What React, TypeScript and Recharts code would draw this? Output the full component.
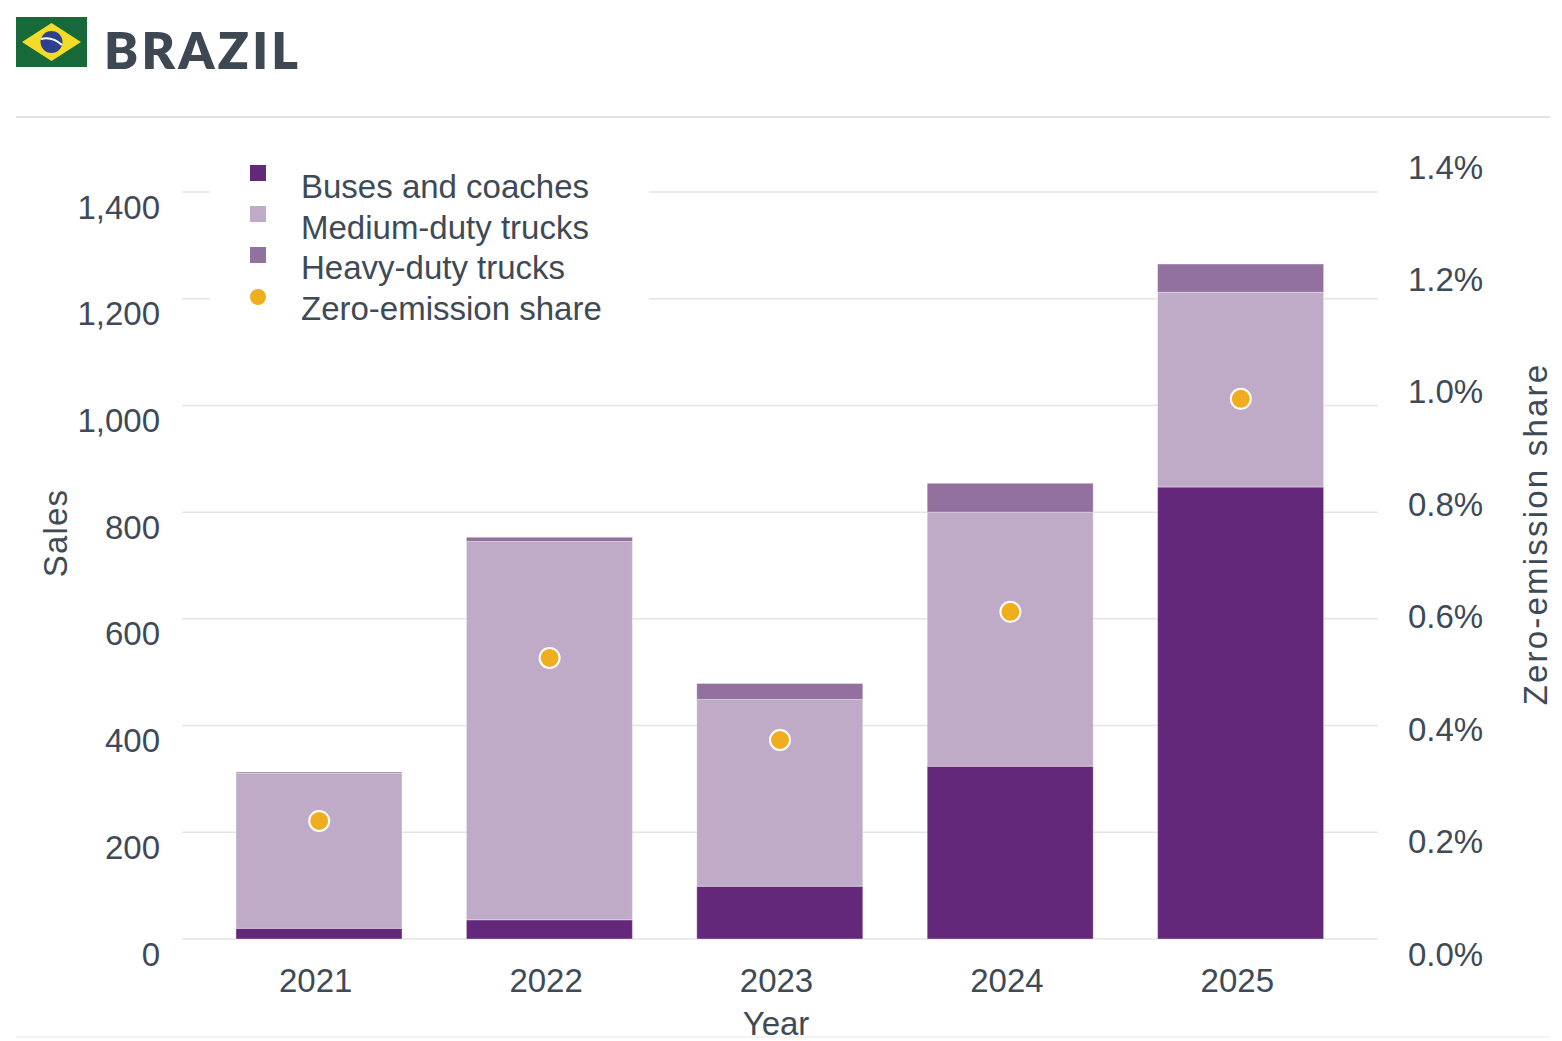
import React from 'react';
import { ComposedChart, Bar, Line, XAxis, YAxis, CartesianGrid, Legend } from 'recharts';

const YEARS = ['2021', '2022', '2023', '2024', '2025'];
const BUSES = [20, 36, 99, 324, 847];
const MEDIUM = [291, 709, 350, 476, 365];
const HEAVY = [2, 8, 30, 54, 53];
const ZE_SHARE = [0.21, 0.5, 0.354, 0.582, 0.961];
const LEFT_TICKS = [0, 200, 400, 600, 800, 1000, 1200, 1400];
const RIGHT_TICKS = [0, 0.2, 0.4, 0.6, 0.8, 1.0, 1.2, 1.4];

const SERIES = [
  { key: 'buses', name: 'Buses and coaches', color: '#63287a', shape: 'square' },
  { key: 'medium', name: 'Medium-duty trucks', color: '#bfabc8', shape: 'square' },
  { key: 'heavy', name: 'Heavy-duty trucks', color: '#93719e', shape: 'square' },
  { key: 'share', name: 'Zero-emission share', color: '#f0ad1e', shape: 'circle' },
];

const data = YEARS.map((year, i) => ({
  year,
  buses: BUSES[i],
  medium: MEDIUM[i],
  heavy: HEAVY[i],
  share: ZE_SHARE[i],
}));

const TEXT = '#3e4a56';
const FONT = '"Liberation Sans", Arial, sans-serif';
const FS = 33;

const LeftTick = (props: any) => {
  const { x, y, payload } = props;
  return (
    <text x={x} y={y + 15} textAnchor="end" dominantBaseline="central" fill={TEXT} fontSize={FS} fontFamily={FONT}>
      {Number(payload.value).toLocaleString('en-US')}
    </text>
  );
};

const RightTick = (props: any) => {
  const { x, y, payload } = props;
  return (
    <text x={x} y={y + 15} textAnchor="start" dominantBaseline="central" fill={TEXT} fontSize={FS} fontFamily={FONT}>
      {`${Number(payload.value).toFixed(1)}%`}
    </text>
  );
};

const XTick = (props: any) => {
  const { x, y, payload } = props;
  return (
    <text x={x - 3.5} y={y + 41} textAnchor="middle" dominantBaseline="central" fill={TEXT} fontSize={FS} fontFamily={FONT}>
      {payload.value}
    </text>
  );
};

const LegendContent = () => (
  <div style={{ position: 'relative', width: 439, height: 195, background: '#fff' }}>
    {SERIES.map((s, i) => (
      <React.Fragment key={s.key}>
        <div
          style={{
            position: 'absolute',
            left: 40,
            top: 33 + i * 41.2 - 8,
            width: 16,
            height: 16,
            background: s.color,
            borderRadius: s.shape === 'circle' ? '50%' : 0,
          }}
        />
        <div
          style={{
            position: 'absolute',
            left: 91,
            top: 47 + i * 40.5 - 20,
            height: 40,
            lineHeight: '40px',
            fontSize: FS,
            fontFamily: FONT,
            color: TEXT,
            whiteSpace: 'nowrap',
          }}
        >
          {s.name}
        </div>
      </React.Fragment>
    ))}
  </div>
);

const Flag = () => (
  <svg width={71} height={50} viewBox="0 0 71 50" style={{ position: 'absolute', left: 16, top: 17 }}>
    <rect x={0} y={0} width={71} height={50} fill="#17693a" />
    <polygon points="6,25 35.5,6 65,25 35.5,44" fill="#f3dc27" />
    <circle cx={35.5} cy={25} r={11} fill="#2c3f91" />
    <path d="M25,22 Q36,19 46,28" stroke="#ffffff" strokeWidth={2} fill="none" />
  </svg>
);

export default function App() {
  return (
    <div style={{ position: 'absolute', left: 0, top: 0, width: 1562, height: 1041, background: '#fff', fontFamily: FONT }}>
      <Flag />
      <div
        style={{
          position: 'absolute',
          left: 104,
          top: 20,
          fontFamily: 'Lato, "Open Sans", sans-serif',
          fontWeight: 800,
          fontSize: 51,
          lineHeight: '60px',
          letterSpacing: 3.3,
          color: '#3e4852',
        }}
      >
        BRAZIL
      </div>
      <div style={{ position: 'absolute', left: 16, top: 116, width: 1534, height: 1.5, background: '#e2e2e2' }} />
      <div style={{ position: 'absolute', left: 16, top: 1036, width: 1534, height: 1.5, background: '#f3f3f3' }} />

      <div style={{ position: 'absolute', left: 0, top: 0 }}>
        <ComposedChart width={1562} height={1041} data={data} margin={{ top: 152, right: 0, bottom: 42, left: 0 }}>
          <CartesianGrid
            vertical={false}
            yAxisId="left"
            horizontalValues={LEFT_TICKS}
            stroke="#e4e4e4"
            strokeWidth={1.5}
          />
          <XAxis
            dataKey="year"
            height={60}
            axisLine={false}
            tickLine={false}
            tickSize={0}
            tickMargin={0}
            padding={{ left: 22, right: 22 }}
            tick={<XTick />}
          />
          <YAxis
            yAxisId="left"
            orientation="left"
            width={182}
            domain={[0, 1475]}
            ticks={LEFT_TICKS}
            axisLine={false}
            tickLine={false}
            tickSize={0}
            tickMargin={22}
            tick={<LeftTick />}
            interval={0}
          />
          <YAxis
            yAxisId="right"
            orientation="right"
            width={184}
            domain={[0, 1.4]}
            ticks={RIGHT_TICKS}
            axisLine={false}
            tickLine={false}
            tickSize={0}
            tickMargin={30}
            tick={<RightTick />}
            interval={0}
          />
          <Legend
            layout="vertical"
            align="center"
            verticalAlign="middle"
            content={<LegendContent />}
            wrapperStyle={{ left: 210, top: 140, width: 439, height: 195 }}
          />
          {SERIES.slice(0, 3).map((s) => (
            <Bar
              key={s.key}
              dataKey={s.key}
              name={s.name}
              stackId="sales"
              yAxisId="left"
              fill={s.color}
              stroke="#ffffff"
              strokeOpacity={0.35}
              strokeWidth={1}
              barSize={166}
              isAnimationActive={false}
            />
          ))}
          <Line
            dataKey="share"
            name="Zero-emission share"
            yAxisId="right"
            stroke="none"
            strokeWidth={0}
            dot={{ r: 10, fill: '#f0ad1e', stroke: '#ffffff', strokeWidth: 2 }}
            activeDot={false}
            isAnimationActive={false}
          />
        </ComposedChart>
      </div>

      <div
        style={{
          position: 'absolute',
          left: 56,
          top: 533,
          transform: 'translate(-50%, -50%) rotate(-90deg)',
          fontSize: FS,
          letterSpacing: 1.2,
          color: TEXT,
          whiteSpace: 'nowrap',
          lineHeight: '36px',
        }}
      >
        Sales
      </div>
      <div
        style={{
          position: 'absolute',
          left: 1536,
          top: 534,
          transform: 'translate(-50%, -50%) rotate(-90deg)',
          fontSize: FS,
          letterSpacing: 2.2,
          color: TEXT,
          whiteSpace: 'nowrap',
          lineHeight: '36px',
        }}
      >
        Zero-emission share
      </div>
      <div
        style={{
          position: 'absolute',
          left: 776,
          top: 1024,
          transform: 'translate(-50%, -50%)',
          fontSize: FS,
          color: TEXT,
          whiteSpace: 'nowrap',
          lineHeight: '36px',
        }}
      >
        Year
      </div>
    </div>
  );
}
